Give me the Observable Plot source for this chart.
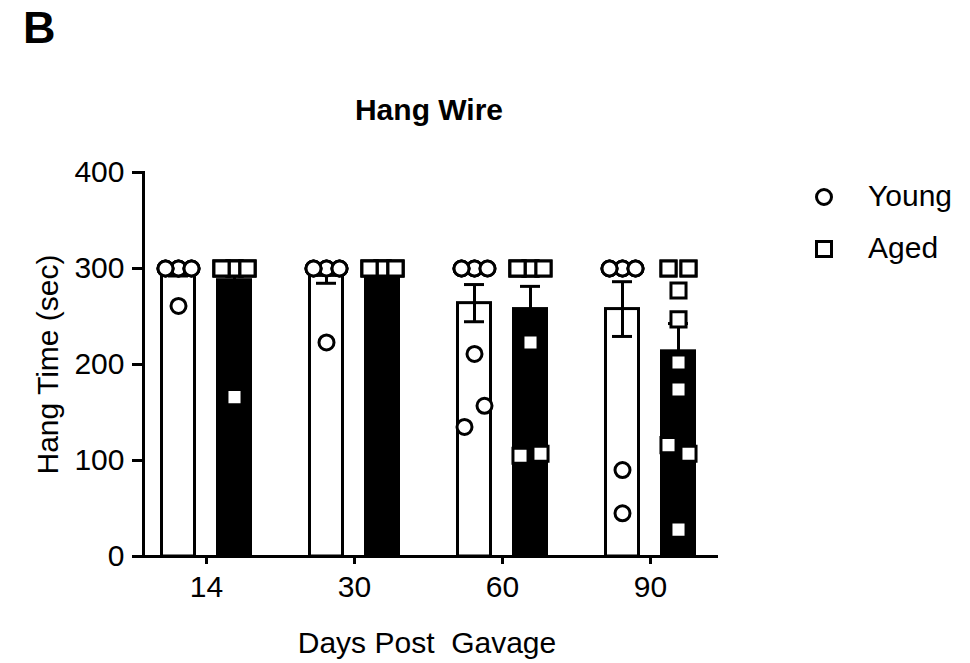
<!DOCTYPE html>
<html>
<head>
<meta charset="utf-8">
<script src="https://cdn.jsdelivr.net/npm/d3@7"></script>
<script src="https://cdn.jsdelivr.net/npm/@observablehq/plot@0.6"></script>
<style>
  html, body { margin: 0; padding: 0; background: #fff; }
  #wrap { position: relative; width: 970px; height: 663px; font-family: "Liberation Sans", Arial, sans-serif; }
  #wrap > svg { position: absolute; left: 0; top: 0; }
  #overlay { pointer-events: none; }
</style>
</head>
<body>
<div id="wrap"></div>
<script>
// ---- data ----
const days = ["14", "30", "60", "90"];
const groups = ["Young", "Aged"];
const yTicks = [0, 100, 200, 300, 400];

const young14 = [300, 300, 300, 300, 300, 300, 300, 300, 300, 261];
const young30 = [300, 300, 300, 300, 300, 300, 300, 300, 300, 223];
const young60 = [300, 300, 300, 300, 300, 300, 300, 300, 211, 135, 157];
const young90 = [300, 300, 300, 300, 300, 300, 300, 300, 300, 90, 45];

const aged14 = [300, 300, 300, 300, 300, 300, 300, 300, 300, 300, 166];
const aged30 = [300, 300, 300, 300, 300, 300, 300, 300, 300, 300];
const aged60 = [300, 300, 300, 300, 300, 300, 300, 300, 223, 105, 107];
const aged90 = [300, 300, 300, 300, 277, 247, 202, 174, 116, 107, 28];

const youngSets = [young14, young30, young60, young90];
const agedSets = [aged14, aged30, aged60, aged90];

// ---- derived tables ----
function spread(vals) {
  // side-by-side placement of (near) tied values, like a scatter-dot plot
  const sorted = vals.map((v, i) => ({v, i})).sort((a, b) => a.v - b.v || a.i - b.i);
  const offs = new Array(vals.length).fill(0);
  let start = 0;
  for (let k = 1; k <= sorted.length; k++) {
    if (k === sorted.length || sorted[k].v - sorted[k - 1].v > 22) {
      const members = sorted.slice(start, k).sort((a, b) => a.i - b.i);
      const m = members.length;
      if (m > 1) {
        const cols = m >= 5 ? [0, -13, 13] : [-10, 10];
        members.forEach((p, j) => { offs[p.i] = cols[j % cols.length]; });
      }
      start = k;
    }
  }
  return offs;
}

const groupShift = {Young: -28, Aged: 28};
const stats = [];
const points = [];
groups.forEach(g => {
  const sets = g === "Young" ? youngSets : agedSets;
  sets.forEach((vals, di) => {
    const mean = d3.mean(vals);
    const sem = d3.deviation(vals) / Math.sqrt(vals.length);
    stats.push({day: days[di], group: g, mean, lo: mean - sem, hi: mean + sem});
    const offs = spread(vals);
    vals.forEach((v, i) => points.push({day: days[di], group: g, value: v, off: Math.round(groupShift[g] + offs[i])}));
  });
});

const font = '"Liberation Sans", Arial, sans-serif';
const marks = [];

groups.forEach(g => {
  const s = stats.filter(d => d.group === g);
  const dx = groupShift[g];
  marks.push(Plot.barY(s, {
    x: "day", y: "mean", dx,
    fill: g === "Young" ? "white" : "black",
    stroke: "black", strokeWidth: 3,
    insetLeft: 57.5, insetRight: 57.5
  }));
});
groups.forEach(g => {
  const s = stats.filter(d => d.group === g);
  const dx = groupShift[g];
  marks.push(Plot.ruleX(s, {x: "day", y1: "lo", y2: "hi", dx, stroke: "black", strokeWidth: 3}));
  marks.push(Plot.tickY(s, {x: "day", y: "hi", dx, stroke: "black", strokeWidth: 3, insetLeft: 64, insetRight: 64}));
  marks.push(Plot.tickY(s, {x: "day", y: "lo", dx, stroke: "black", strokeWidth: 3, insetLeft: 64, insetRight: 64}));
});
groups.forEach(g => {
  const offsets = Array.from(new Set(points.filter(d => d.group === g).map(d => d.off)));
  offsets.forEach(o => {
    marks.push(Plot.dot(points.filter(d => d.group === g && d.off === o), {
      x: "day", y: "value", dx: o,
      symbol: g === "Young" ? "circle" : "square",
      r: g === "Young" ? 7.5 : 8.5,
      fill: "white", stroke: "black", strokeWidth: 3
    }));
  });
});

marks.push(Plot.ruleY([0], {stroke: "black", strokeWidth: 3}));
marks.push(Plot.frame({anchor: "left", stroke: "black", strokeWidth: 3}));
marks.push(Plot.axisY({ticks: yTicks, tickSize: 11, tickPadding: 8, stroke: "black", strokeWidth: 3, fontSize: 30, label: null, tickFormat: d => String(d)}));
marks.push(Plot.axisX({tickSize: 8, tickPadding: 11, stroke: "black", strokeWidth: 3, fontSize: 30, label: null}));
marks.push(Plot.text(["Hang Time (sec)"], {frameAnchor: "left", textAnchor: "middle", rotate: -90, dx: -95, fontSize: 30, fill: "black"}));

const chart = Plot.plot({
  width: 970, height: 663,
  marginLeft: 143, marginRight: 252, marginTop: 172, marginBottom: 107,
  x: {domain: days, range: [132, 724], padding: 0},
  y: {domain: [0, 400]},
  style: {fontFamily: font, background: "white", color: "black", overflow: "visible"},
  marks
});
const wrap = document.getElementById("wrap");
wrap.appendChild(chart);

// title, panel letter, x label and legend
const ns = "http://www.w3.org/2000/svg";
const ov = document.createElementNS(ns, "svg");
ov.setAttribute("id", "overlay");
ov.setAttribute("width", 970);
ov.setAttribute("height", 663);
ov.style.fontFamily = font;
ov.innerHTML = `
  <text x="23" y="43" font-size="45" font-weight="bold" fill="black">B</text>
  <text x="429" y="120" font-size="30" font-weight="bold" text-anchor="middle" fill="black">Hang Wire</text>
  <text x="427" y="653" font-size="30" text-anchor="middle" fill="black" style="white-space:pre">Days Post  Gavage</text>
  <circle cx="824" cy="197" r="7.5" fill="white" stroke="black" stroke-width="3"></circle>
  <text x="868" y="206" font-size="30" fill="black">${groups[0]}</text>
  <rect x="816.5" y="241.5" width="15" height="15" fill="white" stroke="black" stroke-width="3"></rect>
  <text x="868" y="258" font-size="30" fill="black">${groups[1]}</text>
`;
wrap.appendChild(ov);
</script>
</body>
</html>
